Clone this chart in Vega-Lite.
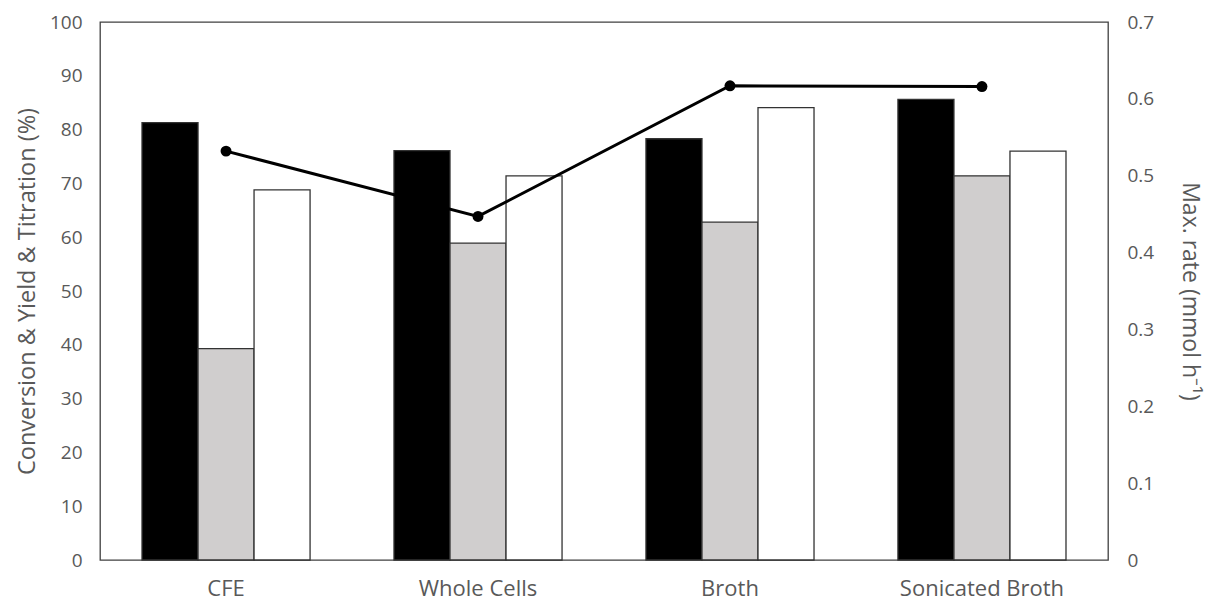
{
  "$schema": "https://vega.github.io/schema/vega-lite/v6.json",
  "autosize": "none",
  "width": 1008,
  "height": 538,
  "padding": {"left": 100, "top": 22, "right": 101, "bottom": 48},
  "background": "white",
  "config": {
    "view": {"stroke": "#404040", "strokeWidth": 1.3},
    "axis": {
      "grid": false,
      "ticks": false,
      "domain": false,
      "labelColor": "#595959",
      "titleColor": "#595959",
      "labelFont": "Open Sans",
      "titleFont": "Open Sans",
      "titleFontWeight": "normal"
    }
  },
  "datasets": {
    "bars": [
      {"sample": "CFE", "measure": "Conversion", "percent": 81.3},
      {"sample": "CFE", "measure": "Yield", "percent": 39.3},
      {"sample": "CFE", "measure": "Titration", "percent": 68.8},
      {"sample": "Whole Cells", "measure": "Conversion", "percent": 76.1},
      {"sample": "Whole Cells", "measure": "Yield", "percent": 58.9},
      {"sample": "Whole Cells", "measure": "Titration", "percent": 71.4},
      {"sample": "Broth", "measure": "Conversion", "percent": 78.3},
      {"sample": "Broth", "measure": "Yield", "percent": 62.8},
      {"sample": "Broth", "measure": "Titration", "percent": 84.1},
      {"sample": "Sonicated Broth", "measure": "Conversion", "percent": 85.6},
      {"sample": "Sonicated Broth", "measure": "Yield", "percent": 71.4},
      {"sample": "Sonicated Broth", "measure": "Titration", "percent": 76.0}
    ],
    "rates": [
      {"sample": "CFE", "rate": 0.532},
      {"sample": "Whole Cells", "rate": 0.447},
      {"sample": "Broth", "rate": 0.617},
      {"sample": "Sonicated Broth", "rate": 0.616}
    ]
  },
  "encoding": {
    "x": {
      "field": "sample",
      "type": "nominal",
      "sort": ["CFE", "Whole Cells", "Broth", "Sonicated Broth"],
      "scale": {"paddingInner": 0.333, "paddingOuter": 0.1667},
      "axis": {
        "title": null,
        "labelAngle": 0,
        "labelFontSize": 22,
        "labelPadding": 18
      }
    }
  },
  "layer": [
    {
      "data": {"name": "bars"},
      "mark": {"type": "bar", "stroke": "#333333", "strokeWidth": 1.3},
      "encoding": {
        "xOffset": {
          "field": "measure",
          "type": "nominal",
          "sort": ["Conversion", "Yield", "Titration"],
          "scale": {"paddingInner": 0, "paddingOuter": 0}
        },
        "y": {
          "field": "percent",
          "type": "quantitative",
          "scale": {"domain": [0, 100]},
          "axis": {
            "title": "Conversion & Yield & Titration (%)",
            "values": [0, 10, 20, 30, 40, 50, 60, 70, 80, 90, 100],
            "labelFontSize": 19,
            "labelPadding": 18,
            "titleFontSize": 23.5,
            "titlePadding": 10
          }
        },
        "fill": {
          "field": "measure",
          "type": "nominal",
          "scale": {
            "domain": ["Conversion", "Yield", "Titration"],
            "range": ["#000000", "#d0cece", "#ffffff"]
          },
          "legend": null
        }
      }
    },
    {
      "data": {"name": "rates"},
      "layer": [
        {
          "mark": {"type": "line", "color": "#000000", "strokeWidth": 3},
          "encoding": {
            "y": {
              "field": "rate",
              "type": "quantitative",
              "scale": {"domain": [0, 0.7]},
              "axis": {
                "orient": "right",
                "title": "Max. rate (mmol h⁻¹)",
                "values": [0, 0.1, 0.2, 0.3, 0.4, 0.5, 0.6, 0.7],
                "format": ".1~f",
                "labelFontSize": 19,
                "labelPadding": 19,
                "titleFontSize": 23,
                "titlePadding": 24
              }
            }
          }
        },
        {
          "mark": {"type": "point", "filled": true, "color": "#000000", "size": 120, "opacity": 1},
          "encoding": {
            "y": {"field": "rate", "type": "quantitative"}
          }
        }
      ]
    }
  ],
  "resolve": {"scale": {"y": "independent"}}
}
